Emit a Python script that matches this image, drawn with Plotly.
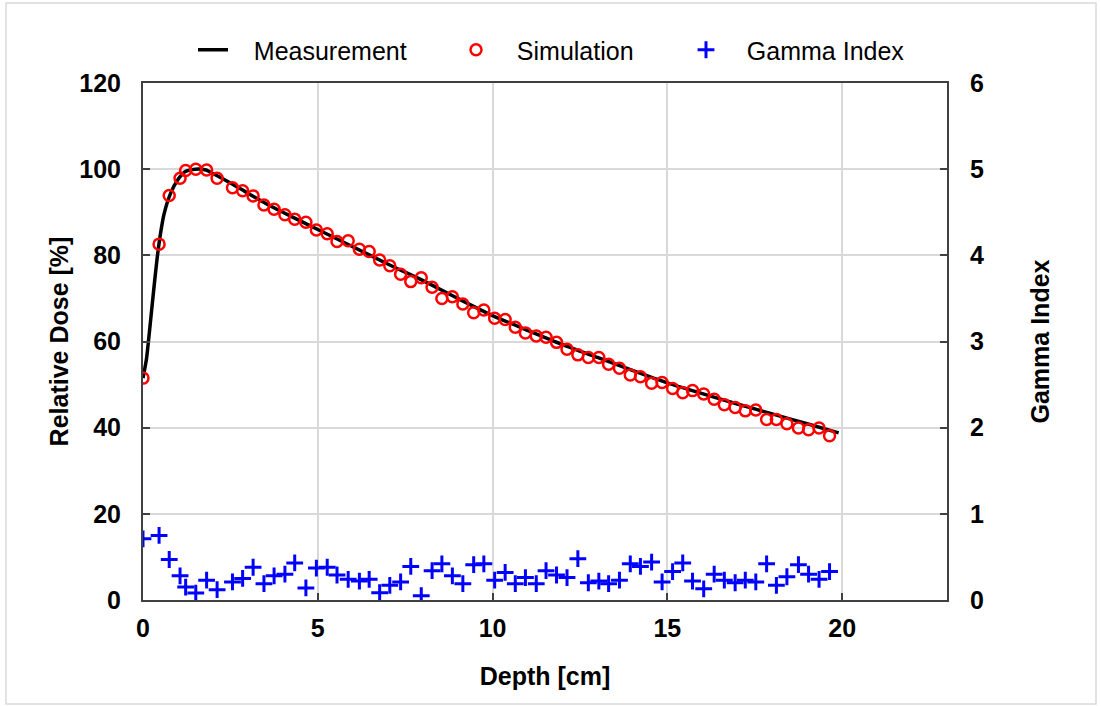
import plotly.graph_objects as go

# Measurement curve (depth [cm], relative dose [%])
meas_depth = [0.0, 0.1, 0.2, 0.3, 0.4, 0.5, 0.6, 0.8, 1.0, 1.2, 1.5, 1.8, 2.0, 2.5, 3.0, 3.5, 4.0,
              4.5, 5.0, 6.0, 7.0, 8.0, 9.0, 10.0, 11.0, 12.0, 13.0, 14.0, 15.0, 16.0, 17.0, 18.0,
              19.0, 19.9]
meas_dose = [51.5, 56.0, 63.5, 71.5, 79.0, 85.0, 89.5, 94.6, 97.6, 99.4, 100.0, 99.8, 99.0, 96.8,
             94.4, 92.1, 90.0, 88.0, 86.0, 82.0, 78.0, 74.2, 70.0, 66.0, 62.6, 59.3, 56.3, 53.3,
             50.4, 47.9, 45.5, 43.2, 40.9, 38.8]

# Simulation and gamma index sampling depths
sample_depth = [0.0, 0.46, 0.75, 1.06, 1.22, 1.51, 1.82, 2.12, 2.56, 2.85, 3.15, 3.46, 3.75, 4.06,
                4.34, 4.66, 4.96, 5.27, 5.55, 5.87, 6.19, 6.47, 6.77, 7.06, 7.37, 7.66, 7.96, 8.27,
                8.55, 8.85, 9.15, 9.46, 9.75, 10.06, 10.36, 10.65, 10.94, 11.25, 11.53, 11.83,
                12.13, 12.44, 12.74, 13.04, 13.32, 13.63, 13.94, 14.23, 14.55, 14.85, 15.15, 15.44,
                15.72, 16.04, 16.34, 16.63, 16.94, 17.23, 17.53, 17.84, 18.12, 18.42, 18.75, 19.04,
                19.34, 19.64]
sim_dose = [51.5, 82.6, 93.9, 97.9, 99.7, 100.0, 99.8, 97.9, 95.7, 95.0, 93.8, 91.7, 90.7, 89.4,
            88.4, 87.7, 85.9, 85.0, 83.2, 83.4, 81.4, 80.9, 78.9, 77.6, 75.6, 73.9, 74.8, 72.6,
            70.0, 70.4, 68.7, 66.7, 67.3, 65.4, 65.1, 63.3, 62.0, 61.3, 61.0, 59.8, 58.2, 56.9,
            56.3, 56.3, 54.7, 53.8, 52.2, 51.8, 50.3, 50.5, 49.1, 48.1, 48.6, 47.8, 46.6, 45.3,
            44.7, 43.9, 44.1, 41.9, 41.9, 40.9, 39.9, 39.5, 39.9, 38.1]
gamma = [0.71, 0.75, 0.47, 0.28, 0.15, 0.08, 0.23, 0.12, 0.21, 0.25, 0.38, 0.19, 0.28, 0.30, 0.43,
         0.14, 0.37, 0.38, 0.29, 0.24, 0.22, 0.24, 0.085, 0.17, 0.21, 0.39, 0.05, 0.34, 0.42, 0.28,
         0.19, 0.41, 0.42, 0.23, 0.32, 0.19, 0.26, 0.19, 0.34, 0.29, 0.26, 0.48, 0.20, 0.22, 0.19,
         0.23, 0.42, 0.39, 0.44, 0.21, 0.33, 0.43, 0.22, 0.13, 0.30, 0.23, 0.20, 0.23, 0.21, 0.42,
         0.17, 0.27, 0.41, 0.30, 0.24, 0.33]

x_ticks = [0, 5, 10, 15, 20]
y_ticks = [0, 20, 40, 60, 80, 100, 120]
y2_ticks = [0, 1, 2, 3, 4, 5, 6]

FONT = "Liberation Sans, Arial, sans-serif"
NB = "\u00a0"

# plot-area geometry in pixels
L, R, T, B = 143, 947, 83, 600
PW, PH = R - L, B - T


def px_x(px):
    return (px - L) / PW


def px_y(py):
    return (B - py) / PH


fig = go.Figure()
fig.add_trace(go.Scatter(
    x=meas_depth, y=meas_dose, mode="lines", name=NB * 3 + "Measurement", legend="legend",
    line=dict(color="black", width=3.5, shape="spline", smoothing=0.6),
))
fig.add_trace(go.Scatter(
    x=sample_depth, y=sim_dose, mode="markers", name=NB * 3 + "Simulation", legend="legend2",
    marker=dict(symbol="circle-open", size=11, color="#ff0000", line=dict(width=2.5, color="#ff0000")),
))
fig.add_trace(go.Scatter(
    x=sample_depth, y=gamma, mode="markers", name=NB * 3 + "Gamma Index", yaxis="y2", legend="legend3",
    marker=dict(symbol="cross-thin", size=12, color="#0000ff", line=dict(width=3, color="#0000ff")),
))

axis_common = dict(
    showline=True, linecolor="#404040", linewidth=2,
    ticks="inside", ticklen=7, tickwidth=2, tickcolor="#404040",
    tickfont=dict(family=FONT, size=25, color="black", weight="bold"),
    zeroline=False,
)

legend_common = dict(
    orientation="h", yanchor="middle", xanchor="left", y=px_y(50),
    font=dict(family=FONT, size=25, color="black"),
    itemwidth=30, bgcolor="rgba(0,0,0,0)", borderwidth=0,
)

fig.update_layout(
    width=1101, height=706,
    paper_bgcolor="white", plot_bgcolor="white",
    margin=dict(l=L, r=1101 - R, t=T, b=706 - B, autoexpand=False),
    font=dict(family=FONT, color="black"),
    showlegend=True,
    legend=dict(x=px_x(193), **legend_common),
    legend2=dict(x=px_x(456), **legend_common),
    legend3=dict(x=px_x(686), **legend_common),
    xaxis=dict(
        range=[0, 23], tickvals=x_ticks, mirror=True,
        showgrid=True, gridcolor="#d9d9d9", gridwidth=1.5,
        ticklabelstandoff=5,
        title=dict(text="<b>Depth [cm]</b>", font=dict(family=FONT, size=25, color="black"), standoff=26),
        **axis_common,
    ),
    yaxis=dict(
        range=[0, 120], tickvals=y_ticks,
        showgrid=True, gridcolor="#d9d9d9", gridwidth=1.5,
        ticklabelstandoff=15,
        title=dict(text="<b>Relative Dose [%]</b>", font=dict(family=FONT, size=25, color="black"), standoff=4),
        **axis_common,
    ),
    yaxis2=dict(
        range=[0, 6], tickvals=y2_ticks, overlaying="y", side="right",
        showgrid=False,
        ticklabelstandoff=16,
        title=dict(text="<b>Gamma Index</b>", font=dict(family=FONT, size=25, color="black"), standoff=48),
        **axis_common,
    ),
    shapes=[dict(
        type="rect", xref="paper", yref="paper",
        x0=px_x(6), x1=px_x(1096), y0=px_y(704), y1=px_y(3),
        line=dict(color="#d9d9d9", width=1.5), fillcolor="rgba(0,0,0,0)", layer="below",
    )],
)

fig.write_html("out.html", config={"displayModeBar": False},
               post_script="document.body.style.margin='0';")
